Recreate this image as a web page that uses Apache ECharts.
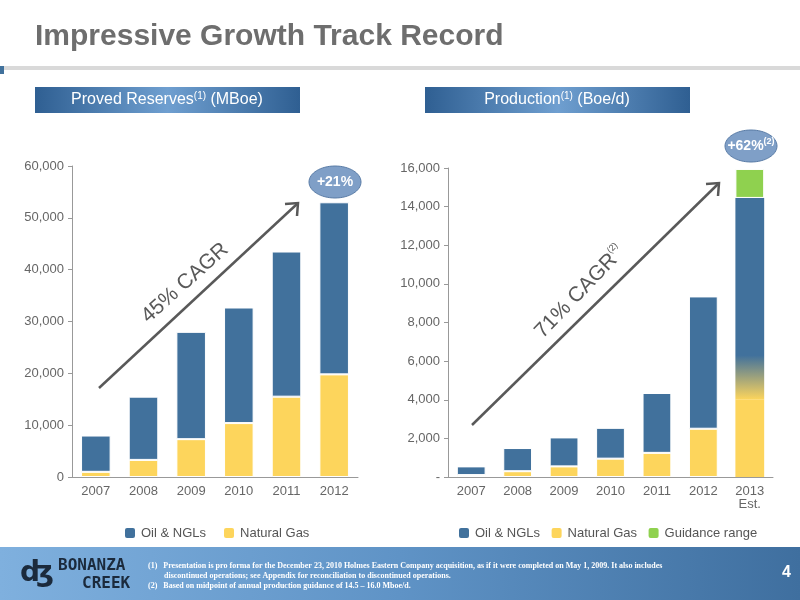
<!DOCTYPE html>
<html>
<head>
<meta charset="utf-8">
<script src="https://cdn.jsdelivr.net/npm/echarts@6/dist/echarts.min.js"></script>
<style>html,body{margin:0;padding:0;background:#fff}#chart{width:800px;height:600px}</style>
</head>
<body>
<div id="chart"></div>
<script>
// 数据
var reserveYears = ["2007", "2008", "2009", "2010", "2011", "2012"];
var reserveGas = [1000, 3300, 7300, 10400, 15500, 19800];
var reserveOil = [7000, 12200, 20700, 22300, 28000, 33200];

var prodYears = ["2007", "2008", "2009", "2010", "2011", "2012", "2013\nEst."];
var prodGas = [100, 300, 550, 950, 1250, 2500, 4000];
var prodOil = [450, 1200, 1500, 1600, 3100, 6850, 10450];
var prodGuidance = [0, 0, 0, 0, 0, 0, 1500];

var blue = "#41719c";
var yellow = "#fdd55c";
var green = "#8fd14f";
var axisText = { color: "#666", fontSize: 13, fontFamily: "Liberation Sans" };

var myChart = echarts.init(document.getElementById("chart"));

// 2013 柱子：油气之间渐变过渡，不画白边
var prodOilData = prodOil.map(function (v, i) {
    if (i < prodOil.length - 1) return v;
    return {
        value: v,
        itemStyle: {
            borderWidth: 0,
            color: new echarts.graphic.LinearGradient(0, 0, 0, 1, [
                { offset: 0, color: blue },
                { offset: 0.78, color: blue },
                { offset: 1, color: yellow }
            ])
        }
    };
});
var prodGasData = prodGas.map(function (v, i) {
    if (i < prodGas.length - 1) return v;
    return { value: v, itemStyle: { borderWidth: 0 } };
});

var headerFill = new echarts.graphic.LinearGradient(0, 0, 1, 0, [
    { offset: 0, color: "#2f5f92" },
    { offset: 0.5, color: "#6f9fd0" },
    { offset: 1, color: "#2f5f92" }
]);

var supRich = {
    n: { fill: "#fff", font: "16px Liberation Sans" },
    s: { fill: "#fff", font: "10px Liberation Sans", padding: [0, 0, 8, 0] },
    b: { fill: "#fff", font: "bold 14px Liberation Sans" },
    bs: { fill: "#fff", font: "bold 9px Liberation Sans", padding: [0, 0, 8, 0] },
    g: { fill: "#595959", font: "21px Liberation Sans" },
    gs: { fill: "#595959", font: "9px Liberation Sans", padding: [0, 0, 14, 0] }
};

var option = {
    animation: false,
    textStyle: { fontFamily: "Liberation Sans" },
    grid: [
        { left: 72, top: 166, width: 286, height: 311 },
        { left: 448, top: 168, width: 325, height: 309 }
    ],
    xAxis: [
        {
            gridIndex: 0, type: "category", data: reserveYears,
            axisLine: { lineStyle: { color: "#999" } },
            axisTick: { lineStyle: { color: "#999" } },
            axisLabel: axisText
        },
        {
            gridIndex: 1, type: "category", data: prodYears,
            axisLine: { lineStyle: { color: "#999" } },
            axisTick: { lineStyle: { color: "#999" } },
            axisLabel: axisText
        }
    ],
    yAxis: [
        {
            gridIndex: 0, type: "value", min: 0, max: 60000, interval: 10000,
            splitLine: { show: false },
            axisLine: { show: true, lineStyle: { color: "#999" } },
            axisTick: { show: true, length: 4, lineStyle: { color: "#999" } },
            axisLabel: Object.assign({ formatter: function (v) { return v.toLocaleString("en-US"); } }, axisText)
        },
        {
            gridIndex: 1, type: "value", min: 0, max: 16000, interval: 2000,
            splitLine: { show: false },
            axisLine: { show: true, lineStyle: { color: "#999" } },
            axisTick: { show: true, length: 4, lineStyle: { color: "#999" } },
            axisLabel: Object.assign({ formatter: function (v) { return v === 0 ? "-" : v.toLocaleString("en-US"); } }, axisText)
        }
    ],
    legend: [
        {
            left: 118, top: 521, itemWidth: 12, itemHeight: 12, itemGap: 16,
            data: ["Oil & NGLs", "Natural Gas"],
            textStyle: { color: "#555", fontSize: 13 }
        },
        {
            left: 452, top: 521, itemWidth: 12, itemHeight: 12, itemGap: 6,
            data: ["Oil & NGLs ", "Natural Gas ", "Guidance range"],
            textStyle: { color: "#555", fontSize: 13 }
        }
    ],
    series: [
        {
            name: "Natural Gas", type: "bar", stack: "r", xAxisIndex: 0, yAxisIndex: 0,
            barWidth: "62%", data: reserveGas,
            itemStyle: { color: yellow, borderColor: "#fff", borderWidth: 1 }
        },
        {
            name: "Oil & NGLs", type: "bar", stack: "r", xAxisIndex: 0, yAxisIndex: 0,
            barWidth: "62%", data: reserveOil,
            itemStyle: { color: blue, borderColor: "#fff", borderWidth: 1 }
        },
        {
            name: "Natural Gas ", type: "bar", stack: "p", xAxisIndex: 1, yAxisIndex: 1,
            barWidth: "62%", data: prodGasData,
            itemStyle: { color: yellow, borderColor: "#fff", borderWidth: 1 }
        },
        {
            name: "Oil & NGLs ", type: "bar", stack: "p", xAxisIndex: 1, yAxisIndex: 1,
            barWidth: "62%", data: prodOilData,
            itemStyle: { color: blue, borderColor: "#fff", borderWidth: 1 }
        },
        {
            name: "Guidance range", type: "bar", stack: "p", xAxisIndex: 1, yAxisIndex: 1,
            barWidth: "62%", data: prodGuidance,
            itemStyle: { color: green, borderColor: "#fff", borderWidth: 1 }
        }
    ],
    graphic: [
        // 标题
        { type: "text", left: 35, top: 22, style: { text: "Impressive Growth Track Record", fill: "#6e6e6e", font: "bold 30px Liberation Sans" } },
        { type: "rect", shape: { x: 0, y: 66, width: 800, height: 4 }, style: { fill: "#d9d9d9" } },
        { type: "rect", shape: { x: 0, y: 66, width: 4, height: 8 }, style: { fill: "#41719c" } },
        // 小标题框
        { type: "rect", shape: { x: 35, y: 87, width: 265, height: 26 }, style: { fill: headerFill } },
        { type: "text", x: 167, y: 100, style: { text: "{n|Proved Reserves}{s|(1)}{n| (MBoe)}", rich: supRich, align: "center", verticalAlign: "middle" } },
        { type: "rect", shape: { x: 425, y: 87, width: 265, height: 26 }, style: { fill: headerFill } },
        { type: "text", x: 557, y: 100, style: { text: "{n|Production}{s|(1)}{n| (Boe/d)}", rich: supRich, align: "center", verticalAlign: "middle" } },
        // 增长箭头
        { type: "line", shape: { x1: 99, y1: 388, x2: 297, y2: 204 }, style: { stroke: "#595959", lineWidth: 2.5 } },
        { type: "polyline", shape: { points: [[285, 204], [298, 203], [297, 216]] }, style: { stroke: "#595959", lineWidth: 2.5, fill: null } },
        { type: "text", x: 185, y: 283, rotation: Math.PI / 4.3, style: { text: "45% CAGR", fill: "#595959", font: "21px Liberation Sans", align: "center", verticalAlign: "middle" } },
        { type: "line", shape: { x1: 472, y1: 425, x2: 718, y2: 184 }, style: { stroke: "#595959", lineWidth: 2.5 } },
        { type: "polyline", shape: { points: [[706, 184], [719, 183], [718, 196]] }, style: { stroke: "#595959", lineWidth: 2.5, fill: null } },
        { type: "text", x: 580, y: 292, rotation: Math.PI / 3.9, style: { text: "{g|71% CAGR}{gs|(2)}", rich: supRich, align: "center", verticalAlign: "middle" } },
        // 椭圆标注
        { type: "ellipse", shape: { cx: 335, cy: 182, rx: 26, ry: 16 }, style: { fill: "#7f9fc7", stroke: "#5a7ca6", lineWidth: 1 } },
        { type: "text", x: 335, y: 182, style: { text: "+21%", fill: "#fff", font: "bold 14px Liberation Sans", align: "center", verticalAlign: "middle" } },
        { type: "ellipse", shape: { cx: 751, cy: 146, rx: 26, ry: 16 }, style: { fill: "#7f9fc7", stroke: "#5a7ca6", lineWidth: 1 } },
        { type: "text", x: 751, y: 146, style: { text: "{b|+62%}{bs|(2)}", rich: supRich, align: "center", verticalAlign: "middle" } },
        // 页脚
        {
            type: "rect", shape: { x: 0, y: 547, width: 800, height: 53 },
            style: {
                fill: new echarts.graphic.LinearGradient(0, 0, 1, 0, [
                    { offset: 0, color: "#7fb0de" }, { offset: 0.5, color: "#5f93c6" }, { offset: 1, color: "#3f6f9f" }
                ])
            }
        },
        { type: "text", left: 58, top: 558, style: { text: "BONANZA", fill: "#1b2a3c", font: "bold 16px DejaVu Sans Mono" } },
        { type: "text", left: 82, top: 576, style: { text: "CREEK", fill: "#1b2a3c", font: "bold 16px DejaVu Sans Mono" } },
        { type: "text", left: 20, top: 560, style: { text: "ʤ", fill: "#1b2a3c", font: "bold 28px DejaVu Sans" } },
        {
            type: "text", left: 148, top: 561,
            style: {
                text: "(1)   Presentation is pro forma for the December 23, 2010 Holmes Eastern Company acquisition, as if it were completed on May 1, 2009. It also includes\n        discontinued operations; see Appendix for reconciliation to discontinued operations.\n(2)   Based on midpoint of annual production guidance of 14.5 – 16.0 Mboe/d.",
                fill: "#fff", font: "bold 8px Liberation Sans Narrow", lineHeight: 10
            }
        },
        { type: "text", left: 782, top: 565, style: { text: "4", fill: "#fff", font: "bold 16px Liberation Sans" } }
    ]
};

myChart.setOption(option);
window.addEventListener("resize", function () {
    myChart.resize();
});
</script>
</body>
</html>
